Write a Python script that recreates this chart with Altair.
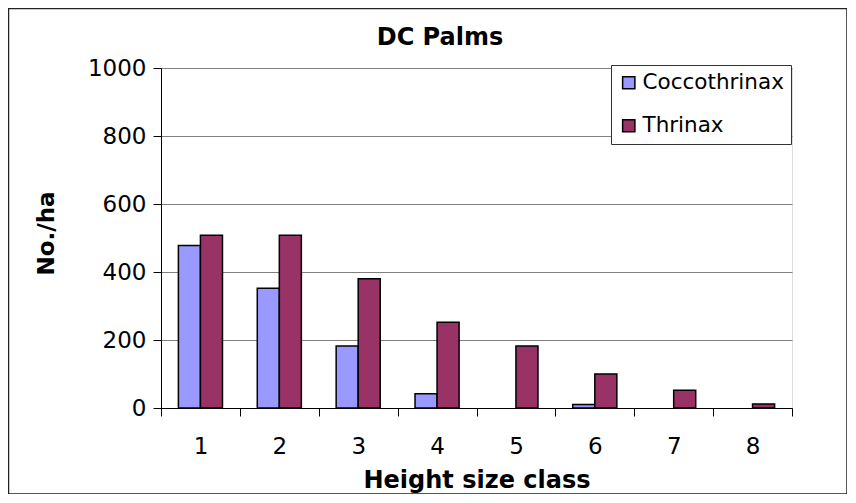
import altair as alt
import pandas as pd

classes = [1, 2, 3, 4, 5, 6, 7, 8]
coccothrinax = [478, 352, 182, 42, 0, 10, 0, 0]
thrinax = [508, 508, 380, 252, 182, 100, 52, 12]
series_names = ["Coccothrinax", "Thrinax"]
colors = ["#9999FF", "#993366"]
y_ticks = [0, 200, 400, 600, 800, 1000]
chart_title = "DC Palms"

rows = []
for i, c in enumerate(classes):
    rows.append({"cls": c, "series": series_names[0], "value": coccothrinax[i]})
    rows.append({"cls": c, "series": series_names[1], "value": thrinax[i]})
df = pd.DataFrame(rows)

W, H = 631, 340
FONT = "DejaVu Sans"

bars = alt.Chart(df).transform_filter("datum.value > 0").mark_bar(
    stroke="black", strokeWidth=1.5
).encode(
    x=alt.X("cls:O", scale=alt.Scale(domain=classes, paddingInner=0, paddingOuter=0),
            axis=alt.Axis(title="Height size class", labelAngle=0, tickBand="extent",
                          tickSize=8, tickColor="#000", domainColor="#000",
                          labelFontSize=23, labelPadding=19, labelFont=FONT, labelColor="#000",
                          titleFontSize=24, titleFont=FONT, titleFontWeight="bold",
                          titleColor="#000",
                          titleX=W / 2, titleY=72, titleAnchor="middle", titleAlign="center",
                          titleBaseline="middle")),
    xOffset=alt.XOffset("series:N", scale=alt.Scale(domain=series_names,
                                                    paddingInner=0, paddingOuter=0.79)),
    y=alt.Y("value:Q", scale=alt.Scale(domain=[0, 1000]),
            axis=alt.Axis(title="No./ha", values=y_ticks, format="d", tickSize=8,
                          tickColor="#000", domainColor="#000", gridColor="#808080",
                          grid=True, labelFontSize=23, labelPadding=7, labelFont=FONT,
                          labelColor="#000",
                          titleFontSize=23, titleFont=FONT, titleFontWeight="bold",
                          titleColor="#000",
                          titleX=-115, titleY=165, titleAnchor="middle", titleAlign="center",
                          titleBaseline="middle")),
    color=alt.Color("series:N", scale=alt.Scale(domain=series_names, range=colors),
                    legend=alt.Legend(title=None, orient="none", legendX=450, legendY=-3,
                                      symbolType="square", symbolSize=150,
                                      symbolStrokeColor="black", symbolStrokeWidth=1.5,
                                      symbolOpacity=1,
                                      labelFontSize=21.5, labelFont=FONT, labelColor="#000",
                                      labelOffset=3,
                                      rowPadding=20, padding=7, fillColor="white",
                                      strokeColor="#333", labelLimit=300)),
)

title = alt.Chart(pd.DataFrame({"t": [chart_title]})).mark_text(
    font=FONT, fontSize=24, fontWeight="bold", color="#000", baseline="middle", align="center"
).encode(text="t:N", x=alt.value(279), y=alt.value(-30))

border = alt.Chart(pd.DataFrame({"a": [0]})).mark_rect(
    fill=None, stroke="#222", strokeWidth=1.5, clip=False
).encode(
    x=alt.value(-152.5), x2=alt.value(W + 55), y=alt.value(-59.5), y2=alt.value(H + 86)
)

chart = alt.layer(border, bars, title).properties(
    width=W, height=H,
    autosize="none",
    padding={"left": 153, "top": 60, "right": 55, "bottom": 86},
).configure_view(stroke="#808080").configure(background="white")

chart.save("out.html", embed_options={"renderer": "svg", "actions": False})
